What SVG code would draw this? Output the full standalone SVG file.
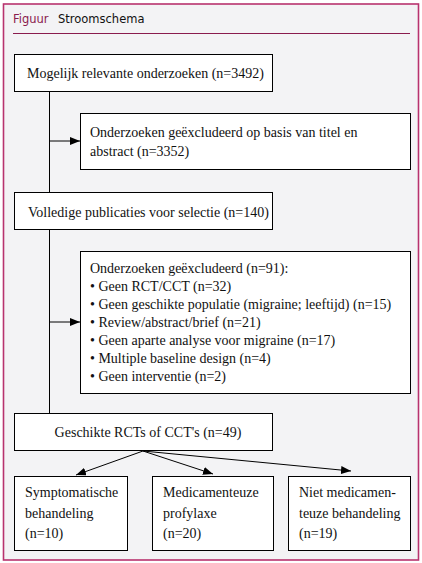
<svg xmlns="http://www.w3.org/2000/svg" width="422" height="563" viewBox="0 0 422 563">
<style>
.box{fill:#fff;stroke:#000;stroke-width:1}
.t{font-family:"Liberation Serif",serif;font-size:14px;fill:#111}
.ln{stroke:#000;stroke-width:1;fill:none}
</style>
<defs>
<marker id="ah" viewBox="0 0 10 8" refX="10" refY="4" markerWidth="10" markerHeight="8" markerUnits="userSpaceOnUse" orient="auto">
<path d="M0,0 L10,4 L0,8 z" fill="#000"/>
</marker>
</defs>
<rect x="0" y="0" width="422" height="563" fill="#fff"/>
<rect x="3.5" y="4" width="415" height="556" fill="#f3f3f5" stroke="#b8336e" stroke-width="1.6"/>
<g id="title">
<text x="13" y="23" font-family="DejaVu Sans,sans-serif" font-size="11.5" fill="#8a1c4e">Figuur</text>
<text x="58" y="23" font-family="DejaVu Sans,sans-serif" font-size="11.5" fill="#111">Stroomschema</text>
<line x1="13" y1="33.5" x2="410" y2="33.5" stroke="#8a1c4e" stroke-width="1.2"/>
</g>
<g id="connectors">
<line class="ln" x1="49.5" y1="91" x2="49.5" y2="413"/>
<line class="ln" x1="49.5" y1="141" x2="80" y2="141" marker-end="url(#ah)"/>
<line class="ln" x1="49.5" y1="322" x2="80" y2="322" marker-end="url(#ah)"/>
<line class="ln" x1="143" y1="451" x2="76" y2="475" marker-end="url(#ah)"/>
<line class="ln" x1="143" y1="451" x2="213" y2="474" marker-end="url(#ah)"/>
<line class="ln" x1="143" y1="451" x2="351" y2="471" marker-end="url(#ah)"/>
</g>
<g id="n1">
<rect class="box" x="14.5" y="54.5" width="258" height="37"/>
<text class="t" x="27" y="78">Mogelijk relevante onderzoeken (n=3492)</text>
</g>
<g id="n2">
<rect class="box" x="80.5" y="113.5" width="330" height="56"/>
<text class="t" x="90" y="137">Onderzoeken geëxcludeerd op basis van titel en</text>
<text class="t" x="90" y="156">abstract (n=3352)</text>
</g>
<g id="n3">
<rect class="box" x="14.5" y="192.5" width="258" height="37"/>
<text class="t" x="28" y="217">Volledige publicaties voor selectie (n=140)</text>
</g>
<g id="n4">
<rect class="box" x="80.5" y="251.5" width="330" height="142"/>
<text class="t" x="90" y="273">Onderzoeken geëxcludeerd (n=91):</text>
<text class="t" x="90" y="291">• Geen RCT/CCT (n=32)</text>
<text class="t" x="90" y="309">• Geen geschikte populatie (migraine; leeftijd) (n=15)</text>
<text class="t" x="90" y="327">• Review/abstract/brief (n=21)</text>
<text class="t" x="90" y="345">• Geen aparte analyse voor migraine (n=17)</text>
<text class="t" x="90" y="363">• Multiple baseline design (n=4)</text>
<text class="t" x="90" y="381">• Geen interventie (n=2)</text>
</g>
<g id="n5">
<rect class="box" x="14.5" y="413.5" width="258" height="37"/>
<text class="t" x="148" y="437" text-anchor="middle">Geschikte RCTs of CCT's (n=49)</text>
</g>
<g id="n6">
<rect class="box" x="14.5" y="476.5" width="113" height="74"/>
<text class="t" x="25" y="497">Symptomatische</text>
<text class="t" x="25" y="518">behandeling</text>
<text class="t" x="25" y="538">(n=10)</text>
</g>
<g id="n7">
<rect class="box" x="152.5" y="476.5" width="121" height="74"/>
<text class="t" x="163" y="497">Medicamenteuze</text>
<text class="t" x="163" y="518">profylaxe</text>
<text class="t" x="163" y="538">(n=20)</text>
</g>
<g id="n8">
<rect class="box" x="288.5" y="476.5" width="122" height="74"/>
<text class="t" x="299" y="497">Niet medicamen-</text>
<text class="t" x="299" y="518">teuze behandeling</text>
<text class="t" x="299" y="538">(n=19)</text>
</g>
</svg>
